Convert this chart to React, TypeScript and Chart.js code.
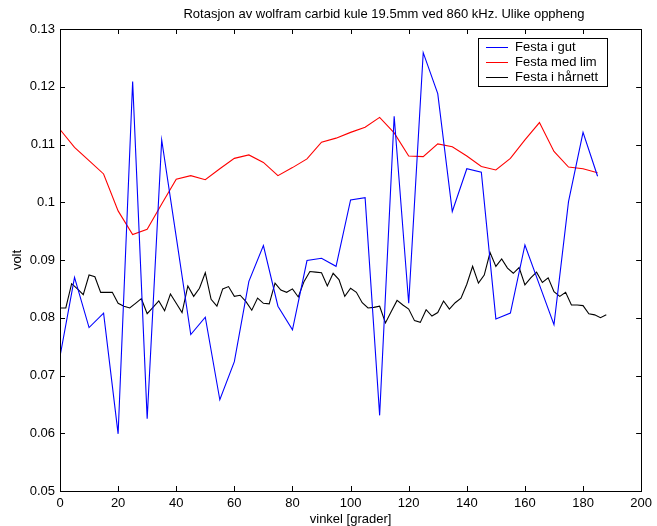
import React, { useEffect, useRef } from "react";
import { Chart, registerables } from "chart.js";

Chart.register(...registerables);

const TITLE = "Rotasjon av wolfram carbid kule 19.5mm ved 860 kHz. Ulike oppheng";
const X_LABEL = "vinkel [grader]";
const Y_LABEL = "volt";
const SERIES_NAMES = ["Festa i gut", "Festa med lim", "Festa i hårnett"];
const SERIES_COLORS = ["#0000ff", "#ff0000", "#000000"];

const anglesFive = [
  0, 5, 10, 15, 20, 25, 30, 35, 40, 45, 50, 55, 60, 65, 70, 75, 80, 85, 90, 95,
  100, 105, 110, 115, 120, 125, 130, 135, 140, 145, 150, 155, 160, 165, 170, 175, 180, 185,
];

const gutValues = [
  0.0733, 0.087, 0.0783, 0.0808, 0.0599, 0.1209, 0.0625, 0.1108, 0.094, 0.0771,
  0.0801, 0.0658, 0.0724, 0.0863, 0.0925, 0.082, 0.0779, 0.0899, 0.0903, 0.0889,
  0.1004, 0.1008, 0.0631, 0.1149, 0.0825, 0.1259, 0.1188, 0.0984, 0.1058, 0.1052,
  0.0798, 0.0808, 0.0926, 0.0857, 0.0788, 0.1001, 0.1121, 0.1045,
];

const limValues = [
  0.1126, 0.1095, 0.1072, 0.1049, 0.0985, 0.0944, 0.0953, 0.0997, 0.104, 0.1046,
  0.1039, 0.1058, 0.1076, 0.1082, 0.1069, 0.1046, 0.106, 0.1075, 0.1104, 0.1111,
  0.1121, 0.113, 0.1147, 0.112, 0.108, 0.1079, 0.1101, 0.1096, 0.108, 0.1062,
  0.1056, 0.1076, 0.1108, 0.1138, 0.1088, 0.1061, 0.1058, 0.1051,
];

const anglesTwo = [
  0, 2, 4, 6, 8, 10, 12, 14, 16, 18, 20, 22, 24, 26, 28, 30, 32, 34, 36, 38,
  40, 42, 44, 46, 48, 50, 52, 54, 56, 58, 60, 62, 64, 66, 68, 70, 72, 74, 76, 78,
  80, 82, 84, 86, 88, 90, 92, 94, 96, 98, 100, 102, 104, 106, 108, 110, 112, 114, 116, 118,
  120, 122, 124, 126, 128, 130, 132, 134, 136, 138, 140, 142, 144, 146, 148, 150, 152, 154, 156, 158,
  160, 162, 164, 166, 168, 170, 172, 174, 176, 178, 180, 182, 184, 186, 188,
];

const harnettValues = [
  0.0817, 0.0817, 0.0859, 0.085, 0.084, 0.0874, 0.0871, 0.0844, 0.0844, 0.0844,
  0.0825, 0.082, 0.0817, 0.0825, 0.0833, 0.0807, 0.0818, 0.0829, 0.0812, 0.0841,
  0.0825, 0.0809, 0.0855, 0.0837, 0.0851, 0.0878, 0.0832, 0.082, 0.085, 0.0854,
  0.0837, 0.0839, 0.0828, 0.0813, 0.0834, 0.0825, 0.0824, 0.086, 0.0848, 0.0844,
  0.085, 0.0836, 0.0863, 0.088, 0.0879, 0.0878, 0.0855, 0.0877, 0.0866, 0.0837,
  0.0851, 0.0844, 0.0826, 0.0817, 0.0818, 0.082, 0.0791, 0.0811, 0.083, 0.0822,
  0.0815, 0.0795, 0.0792, 0.0814, 0.0803, 0.0809, 0.0829, 0.0815, 0.0826, 0.0834,
  0.0858, 0.0889, 0.086, 0.0874, 0.0913, 0.0889, 0.0902, 0.0886, 0.0877, 0.0887,
  0.0857, 0.0869, 0.0879, 0.0861, 0.0869, 0.0845, 0.0837, 0.0844, 0.0822, 0.0822,
  0.0821, 0.0807, 0.0805, 0.08, 0.0805,
];

const X_MIN = 0;
const X_MAX = 200;
const X_STEP = 20;
const Y_MIN = 0.05;
const Y_MAX = 0.13;
const Y_STEP = 0.01;

const FONT = "'Liberation Sans', Arial, Helvetica, sans-serif";
const FONT_SIZE = 13;

const framePlugin = {
  id: "matlabFrame",
  afterDatasetsDraw(chart: any) {
    const { ctx, chartArea } = chart;
    const { left, right, top, bottom } = chartArea;
    const xs = chart.scales.x;
    const ys = chart.scales.y;
    ctx.save();
    ctx.strokeStyle = "#000";
    ctx.lineWidth = 1;
    ctx.strokeRect(Math.round(left) + 0.5, Math.round(top) + 0.5, Math.round(right - left), Math.round(bottom - top));
    const tl = 5;
    ctx.beginPath();
    for (let v = X_MIN; v <= X_MAX + 1e-9; v += X_STEP) {
      const px = Math.round(xs.getPixelForValue(v)) + 0.5;
      ctx.moveTo(px, bottom);
      ctx.lineTo(px, bottom - tl);
      ctx.moveTo(px, top);
      ctx.lineTo(px, top + tl);
    }
    for (let i = 0; i <= Math.round((Y_MAX - Y_MIN) / Y_STEP); i++) {
      const v = Y_MIN + i * Y_STEP;
      const py = Math.round(ys.getPixelForValue(v)) + 0.5;
      ctx.moveTo(left, py);
      ctx.lineTo(left + tl, py);
      ctx.moveTo(right, py);
      ctx.lineTo(right - tl, py);
    }
    ctx.stroke();

    // Legend box
    const bx = 478.5, by = 38.5, bw = 129, bh = 48;
    ctx.fillStyle = "#fff";
    ctx.fillRect(bx, by, bw, bh);
    ctx.strokeStyle = "#000";
    ctx.strokeRect(bx, by, bw, bh);
    ctx.font = `${FONT_SIZE}px ${FONT}`;
    ctx.textBaseline = "middle";
    ctx.textAlign = "left";
    const rows = [47, 62, 77];
    SERIES_NAMES.forEach((name, i) => {
      ctx.fillStyle = SERIES_COLORS[i];
      ctx.fillRect(486, rows[i], 22, 1);
      ctx.fillStyle = "#000";
      ctx.fillText(name, 515, rows[i] + 0.5);
    });

    // Title and axis labels
    ctx.fillStyle = "#000";
    ctx.textAlign = "center";
    ctx.textBaseline = "alphabetic";
    ctx.font = `${FONT_SIZE}px ${FONT}`;
    ctx.fillText(TITLE, 384, 18);
    ctx.fillText(X_LABEL, (left + right) / 2, 523);
    ctx.save();
    ctx.translate(21, (top + bottom) / 2);
    ctx.rotate(-Math.PI / 2);
    ctx.fillText(Y_LABEL, 0, 0);
    ctx.restore();
    ctx.restore();
  },
};

export default function App() {
  const canvasRef = useRef<HTMLCanvasElement | null>(null);

  useEffect(() => {
    if (!canvasRef.current) return;
    const mk = (xs: number[], ys: number[]) => xs.map((x, i) => ({ x, y: ys[i] }));
    const seriesData = [
      mk(anglesFive, gutValues),
      mk(anglesFive, limValues),
      mk(anglesTwo, harnettValues),
    ];
    const chart = new Chart(canvasRef.current, {
      type: "line",
      data: {
        datasets: SERIES_NAMES.map((name, i) => ({
          label: name,
          data: seriesData[i],
          borderColor: SERIES_COLORS[i],
          backgroundColor: SERIES_COLORS[i],
          borderWidth: 1.1,
          pointRadius: 0,
          tension: 0,
          fill: false,
        })),
      },
      options: {
        responsive: false,
        animation: false,
        devicePixelRatio: 1,
        layout: { padding: { top: 29, right: 12, left: 0, bottom: 0 } },
        plugins: {
          legend: { display: false },
          title: { display: false },
          tooltip: { enabled: false },
        },
        scales: {
          x: {
            type: "linear",
            min: X_MIN,
            max: X_MAX,
            grid: { display: false, drawTicks: false },
            border: { display: false },
            ticks: {
              stepSize: X_STEP,
              color: "#000",
              padding: 5,
              maxRotation: 0,
              font: { family: FONT, size: FONT_SIZE },
            },
            afterFit: (s: any) => {
              s.height = 35;
            },
          },
          y: {
            type: "linear",
            min: Y_MIN,
            max: Y_MAX,
            grid: { display: false, drawTicks: false },
            border: { display: false },
            ticks: {
              stepSize: Y_STEP,
              color: "#000",
              padding: 5,
              font: { family: FONT, size: FONT_SIZE },
              callback: (v: any) => String(Math.round(Number(v) * 100) / 100),
            },
            afterFit: (s: any) => {
              s.width = 60;
            },
          },
        },
      },
      plugins: [framePlugin],
    });
    return () => chart.destroy();
  }, []);

  return (
    <div style={{ position: "absolute", left: 0, top: 0, width: 657, height: 526, background: "#fff" }}>
      <canvas ref={canvasRef} width={657} height={526} style={{ display: "block" }} />
    </div>
  );
}
